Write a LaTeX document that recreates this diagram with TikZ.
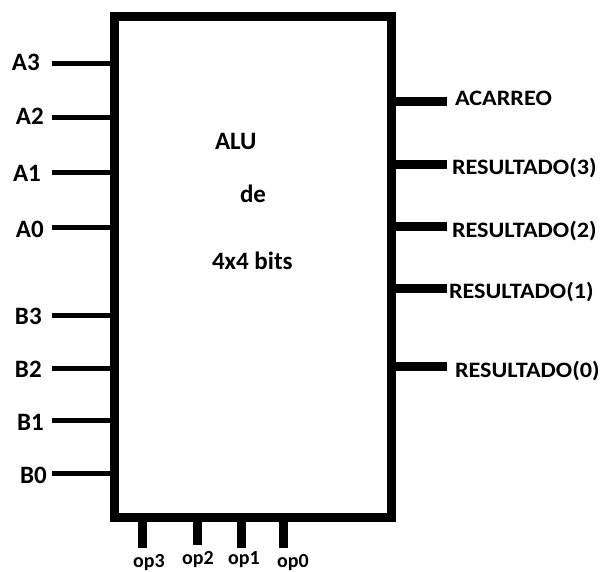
\documentclass[tikz,border=0pt]{standalone}
\usepackage{fontspec}
\setmainfont{Carlito}
\newfontfamily\rfont{Carlito}[FakeStretch=1.1]
\begin{document}
\begin{tikzpicture}[x=1pt,y=-1pt,
  lbl/.style={inner sep=0pt,outer sep=0pt,anchor=base west,font=\bfseries\fontsize{25}{25}\selectfont},
  rlbl/.style={inner sep=0pt,outer sep=0pt,anchor=base west,font=\rfont\bfseries\fontsize{22}{22}\selectfont},
  oplbl/.style={inner sep=0pt,outer sep=0pt,anchor=base west,font=\bfseries\fontsize{20}{20}\selectfont},
  inpin/.style={line width=5pt},
  outpin/.style={line width=9pt},
  oppin/.style={line width=9pt},
  box/.style={draw,line width=9pt,inner sep=0pt,outer sep=0pt,miter limit=10}]
\useasboundingbox (0,0) rectangle (603,571);
\node[box,minimum width=276.8pt,minimum height=501pt] (alu) at (252.9,266.5) {};
% center text
\node[lbl] (talu) at (215,149) {ALU};
\node[lbl] (tde) at (240,202) {de};
\node[lbl] (tbits) at (212,269) {4x4 bits};
% left inputs
\foreach \n/\py/\lx/\by in {A3/63/12/70, A2/117/16/124, A1/172/13/181, A0/227/16/237,
                            B3/315/15/324, B2/368/15/377, B1/420/17/430, B0/473/20/483}{
  \coordinate (p\n) at (52,\py);
  \node[lbl] (l\n) at (\lx,\by) {\n};
  \draw[inpin] (p\n) -- (alu.west |- p\n);
}
% right outputs
\coordinate (pc) at (447,101);
\draw[outpin] (alu.east |- pc) -- (pc);
\node[rlbl] (lc) at (455,105) {ACARREO};
\foreach \k/\py/\lx/\by in {3/164/452/174, 2/226.5/452/237, 1/288.5/449/298, 0/366/455/377}{
  \coordinate (pr\k) at (447,\py);
  \draw[outpin] (alu.east |- pr\k) -- (pr\k);
  \node[rlbl] (lr\k) at (\lx,\by) {RESULTADO(\k)};
}
% bottom op pins
\foreach \k/\px/\pb/\lx/\by in {3/142/548/133/567, 2/197/545/182/564, 1/241/548/228/564, 0/283/548/277/567}{
  \coordinate (po\k) at (\px,\pb);
  \draw[oppin] (alu.south -| po\k) -- (po\k);
  \node[oplbl] (lo\k) at (\lx,\by) {op\k};
}
\end{tikzpicture}
\end{document}
